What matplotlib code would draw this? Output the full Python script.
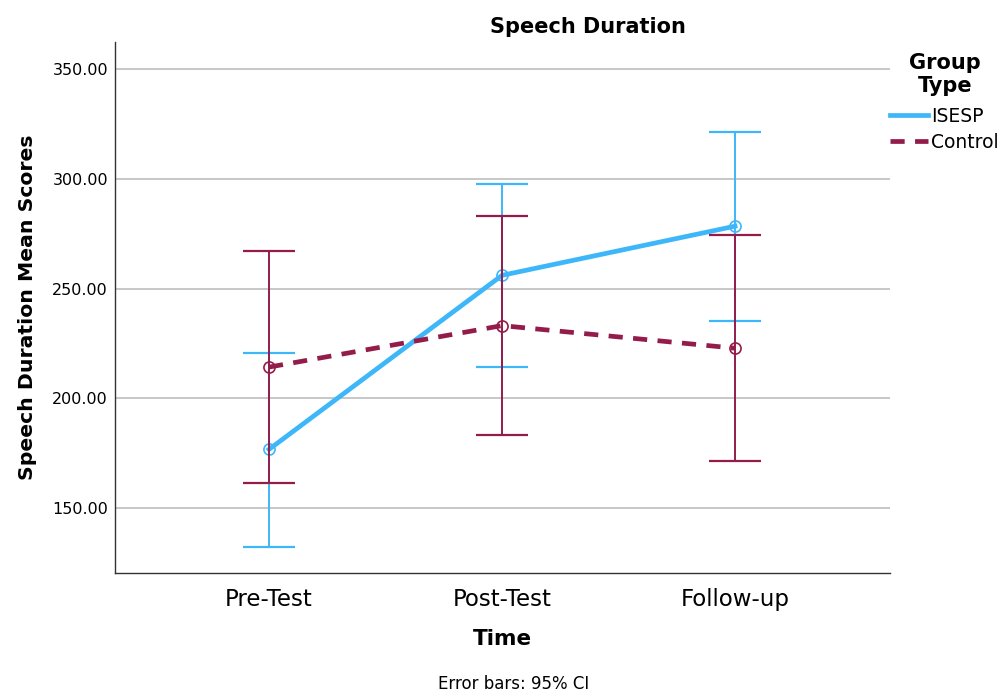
import matplotlib
matplotlib.use("Agg")
import matplotlib.pyplot as plt
from matplotlib.lines import Line2D

categories = ["Pre-Test", "Post-Test", "Follow-up"]
isesp_mean = [176.7, 256.0, 278.4]
isesp_low = [132.3, 214.1, 235.1]
isesp_high = [220.6, 297.6, 321.3]
control_mean = [214.2, 233.1, 222.8]
control_low = [161.5, 183.2, 171.5]
control_high = [266.9, 283.0, 274.5]
yticks = [150, 200, 250, 300, 350]

c_blue = "#3DB7F9"
c_red = "#941C4B"

plt.rcParams['font.family'] = ['DejaVu Sans']

fig = plt.figure(figsize=(10, 6.91), dpi=100)
ax = fig.add_axes([0.115, 0.1708, 0.775, 0.7684])
x = list(range(len(categories)))

for yt in yticks:
    ax.axhline(yt, color="#BDBDBD", lw=1.2, zorder=0)

def draw(mean, low, high, color, ls, z):
    yerr = [[m - l for m, l in zip(mean, low)], [h - m for h, m in zip(high, mean)]]
    ax.errorbar(x, mean, yerr=yerr, fmt="none", ecolor=color, elinewidth=1.4,
                capsize=19, capthick=1.6, zorder=z)
    ax.plot(x, mean, color=color, lw=3.4, ls=ls, zorder=z + 1)
    ax.plot(x, mean, ls="none", marker="o", mfc="none", mec=color, ms=8, mew=1.2, zorder=z + 2)

draw(isesp_mean, isesp_low, isesp_high, c_blue, "-", 2)
draw(control_mean, control_low, control_high, c_red, (0, (3, 2.2)), 5)

ax.set_xlim(-0.661, 2.665)
ax.set_ylim(120.4, 362.3)
ax.set_xticks(x)
ax.set_xticklabels(categories, fontsize=16.5)
ax.set_yticks(yticks)
ax.set_yticklabels([f"{v:.2f}" for v in yticks], fontsize=11.5)
ax.tick_params(axis="both", length=0)
ax.tick_params(axis="x", pad=11)
ax.tick_params(axis="y", pad=5)
for s in ["top", "right"]:
    ax.spines[s].set_visible(False)
for s in ["left", "bottom"]:
    ax.spines[s].set_color("#333333")
    ax.spines[s].set_linewidth(1.0)

ax.set_xlabel("Time", fontsize=15.5, fontweight="bold", labelpad=13)
ax.set_ylabel("Speech Duration Mean Scores", fontsize=14.7, fontweight="bold", labelpad=11)
fig.text(0.588, 1 - 27 / 691, "Speech Duration", ha="center", va="center", fontsize=15, fontweight="bold")
fig.text(0.514, 1 - 684 / 691, "Error bars: 95% CI", ha="center", va="center", fontsize=12)

fig.text(0.945, 1 - 63 / 691, "Group", ha="center", va="center", fontsize=15, fontweight="bold")
fig.text(0.945, 1 - 86 / 691, "Type", ha="center", va="center", fontsize=15, fontweight="bold")
handles = [Line2D([], [], color=c_blue, lw=3.4, ls="-"),
           Line2D([], [], color=c_red, lw=3.4, ls=(0, (3, 2.2)))]
fig.legend(handles, ["ISESP", "Control"], loc="upper left", bbox_to_anchor=(0.89, 1 - 107 / 691),
           frameon=False, fontsize=13.5, handlelength=2.0, handletextpad=0.2, labelspacing=0.35,
           borderaxespad=0, borderpad=0)

fig.savefig("out.png", dpi=100)
